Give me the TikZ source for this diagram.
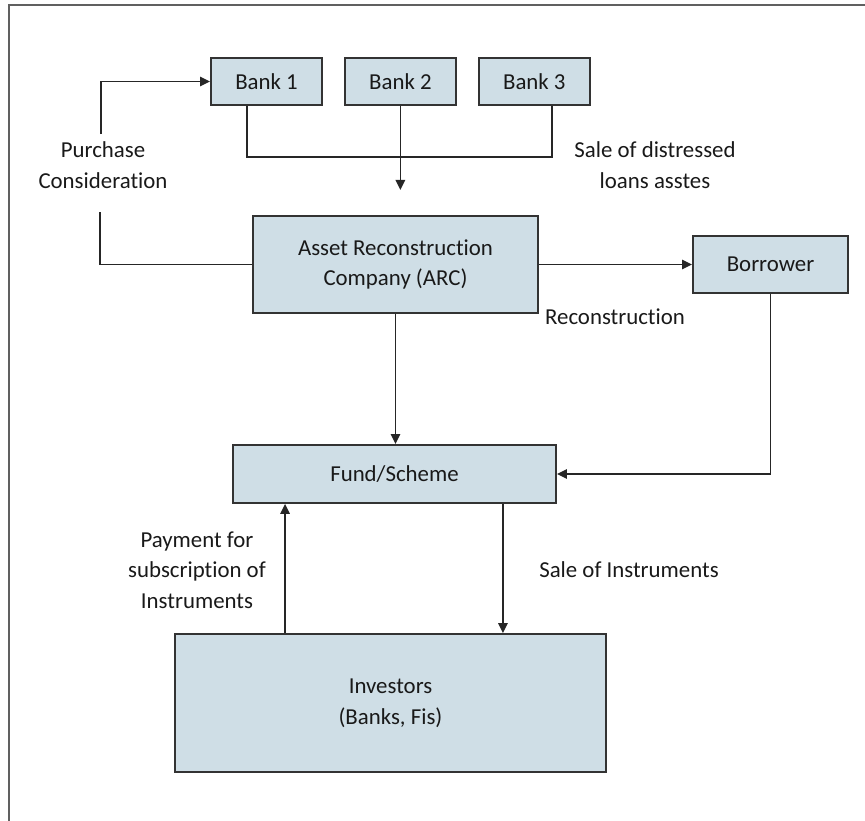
\documentclass[tikz,border=0pt]{standalone}
\usepackage{fontspec}
\setmainfont{Carlito}[Ligatures=NoCommon]
\usetikzlibrary{arrows.meta,positioning}

\begin{document}
\begin{tikzpicture}[x=0.02cm,y=-0.02cm,>={Triangle[length=2mm,width=1.9mm]},
  every node/.style={font=\fontsize{13}{17.5}\selectfont,text=black!90},
  box/.style={draw=black!80,line width=1.1pt,fill=boxblue,inner sep=0pt},
  flow/.style={draw=black!85,line width=0.85pt},
  lbl/.style={align=center,inner sep=1pt}]
  \definecolor{boxblue}{HTML}{CFDEE6}
  \useasboundingbox (0,0) rectangle (865,821);
  % open frame: top and left only
  \draw[gray!75!black,line width=1.3pt] (865,5) -- (9,5) -- (9,821);

  % banks
  \node[box,minimum width=2.22cm,minimum height=0.94cm] (b1) at (266.5,81.5) {Bank 1};
  \node[box,minimum width=2.22cm,minimum height=0.94cm,right=0.42cm of b1] (b2) {Bank 2};
  \node[box,minimum width=2.22cm,minimum height=0.94cm,right=0.42cm of b2] (b3) {Bank 3};

  % main chain
  \node[box,minimum width=5.7cm,minimum height=1.94cm,align=center] (arc) at (395.5,264.5)
    {Asset Reconstruction\\Company (ARC)};
  \node[box,minimum width=3.1cm,minimum height=1.14cm] (bor) at (770.5,264.5) {Borrower};
  \node[box,minimum width=6.46cm,minimum height=1.16cm] (fund) at (394.5,474) {Fund/Scheme};
  \node[box,minimum width=8.62cm,minimum height=2.76cm,align=center] (inv) at (390.5,703)
    {Investors\\(Banks, Fis)};

  % labels
  \node[lbl] (pc) at (103,165) {Purchase\\Consideration};
  \node[lbl] (sd) at (655,165) {Sale of distressed\\loans asstes};
  \node[lbl] (rec) at (615,317) {Reconstruction};
  \node[lbl] (pay) at (197,570) {Payment for\\subscription of\\Instruments};
  \node[lbl] (si) at (629,570) {Sale of Instruments};

  % free ends
  \coordinate (join) at ([yshift=-1.02cm]b2.south);
  \coordinate (drop) at ([yshift=-1.68cm]b2.south);
  \coordinate (pcl) at (100,212);
  \coordinate (pcu) at (101,134);

  % connectors
  \draw[flow] ([xshift=-0.39cm]b1.south) |- (join) -| ([xshift=0.35cm]b3.south);
  \draw[flow,->] (b2.south) -- (join) -- (drop);
  \draw[flow] (arc.west) -| (pcl);
  \draw[flow,->] (pcu) |- (b1.west);
  \draw[flow,->] (arc.east) -- (bor.west);
  \draw[flow,->] (arc.south) -- (arc.south |- fund.north);
  \draw[flow,->] (bor.south) |- (fund.east);
  \draw[flow,->] ([xshift=-2.11cm]inv.north) -- ([xshift=-2.11cm]inv.north |- fund.south);
  \draw[flow,->] ([xshift=2.17cm]fund.south) -- ([xshift=2.17cm]fund.south |- inv.north);
\end{tikzpicture}
\end{document}
